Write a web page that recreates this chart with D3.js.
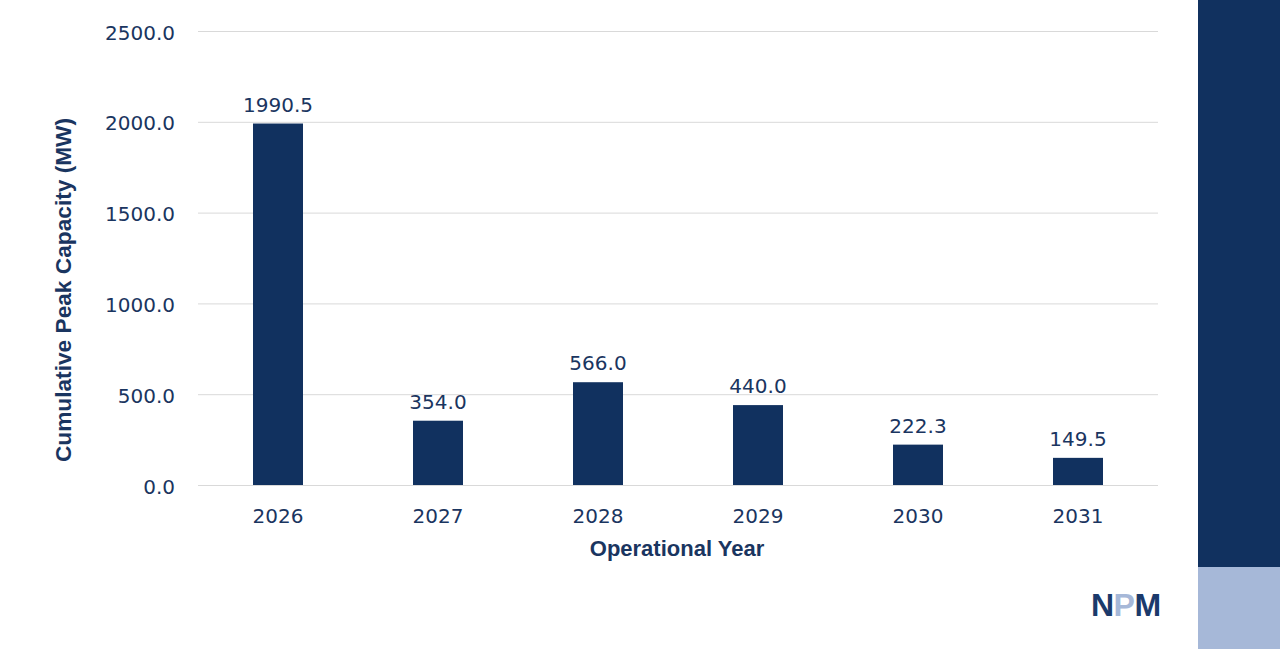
<!DOCTYPE html>
<html><head><meta charset="utf-8">
<script src="https://cdn.jsdelivr.net/npm/d3@7"></script>
<style>html,body{margin:0;padding:0;background:#fff;}svg{display:block;}</style>
</head><body>
<svg id="c" width="1280" height="649"></svg>
<script>
const years = ["2026","2027","2028","2029","2030","2031"];
const capacity = [1990.5, 354.0, 566.0, 440.0, 222.3, 149.5];
const yTicks = [0, 500, 1000, 1500, 2000, 2500];

const navy = "#11315f", text = "#1a3560", grid = "#d9d9d9";
const numFont = "'DejaVu Sans', Verdana, sans-serif";
const titleFont = "'Liberation Sans', Arial, sans-serif";
const svg = d3.select("#c");
const m = {l:198, r:1158, t:31, b:485};

// right side panel
svg.append("rect").attr("x",1198).attr("y",0).attr("width",82).attr("height",567).attr("fill",navy);
svg.append("rect").attr("x",1198).attr("y",567).attr("width",82).attr("height",82).attr("fill","#a6b8d8");

const x = d3.scaleBand().domain(years).range([m.l, m.r]).paddingInner(0).paddingOuter(0);
const y = d3.scaleLinear().domain([0,2500]).range([m.b, m.t]);

svg.append("g").selectAll("line").data(yTicks).join("line")
  .attr("x1",m.l).attr("x2",m.r).attr("y1",d=>y(d)+0.5).attr("y2",d=>y(d)+0.5)
  .attr("stroke",grid).attr("stroke-width",1);

const yAxis = svg.append("g").attr("transform",`translate(${m.l},0)`)
  .call(d3.axisLeft(y).tickValues(yTicks).tickFormat(d3.format(".1f")).tickSize(0).tickPadding(23));
yAxis.select(".domain").remove();
yAxis.selectAll("text").attr("fill",text).attr("dy",null).attr("y",8)
  .style("font-family",numFont).style("font-size","20px");

const xAxis = svg.append("g").attr("transform",`translate(0,${m.b})`)
  .call(d3.axisBottom(x).tickSize(0));
xAxis.select(".domain").remove();
xAxis.selectAll("text").attr("fill",text).attr("dy",null).attr("y",38)
  .style("font-family",numFont).style("font-size","20px");

const bw = 50;
svg.selectAll("rect.bar").data(years).join("rect").attr("class","bar")
  .attr("x",d=>x(d)+x.bandwidth()/2-bw/2).attr("width",bw)
  .attr("y",(d,i)=>y(capacity[i])).attr("height",(d,i)=>m.b-y(capacity[i]))
  .attr("fill",navy);

svg.selectAll("text.lbl").data(years).join("text").attr("class","lbl")
  .attr("x",d=>x(d)+x.bandwidth()/2).attr("y",(d,i)=>y(capacity[i])-12)
  .attr("text-anchor","middle").attr("fill",text)
  .style("font-family",numFont).style("font-size","20px")
  .text((d,i)=>capacity[i].toFixed(1));

svg.append("text").attr("x",677).attr("y",556).attr("text-anchor","middle")
  .attr("fill",text).style("font-family",titleFont).style("font-size","22px").style("font-weight","bold")
  .text("Operational Year");

svg.append("text").attr("transform",`translate(71,290) rotate(-90)`).attr("text-anchor","middle")
  .attr("fill",text).style("font-family",titleFont).style("font-size","22.7px").style("font-weight","bold")
  .text("Cumulative Peak Capacity (MW)");

// logo
const logo = svg.append("text").attr("x",1091).attr("y",616)
  .style("font-family",titleFont).style("font-size","32px").style("font-weight","bold")
  .attr("letter-spacing","-0.5");
logo.append("tspan").attr("fill","#1b3a6b").text("N");
logo.append("tspan").attr("fill","#a6b8d8").text("P");
logo.append("tspan").attr("fill","#1b3a6b").text("M");
</script>
</body></html>
